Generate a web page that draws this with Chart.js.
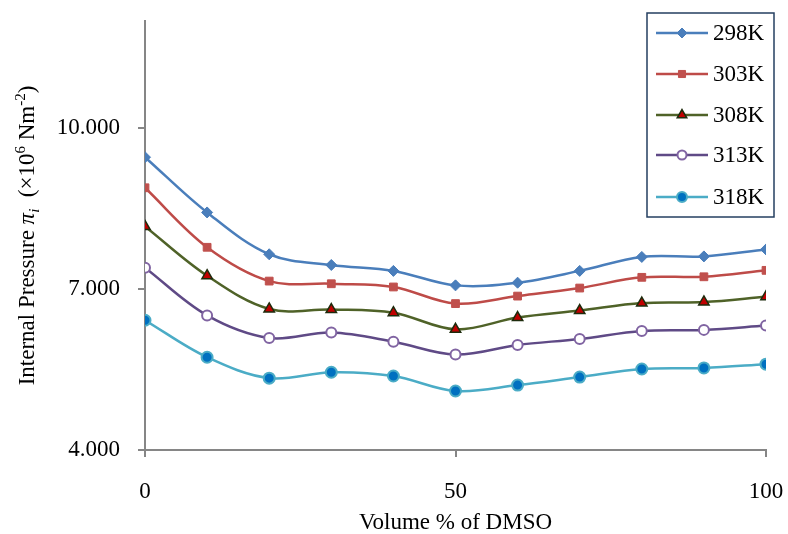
<!DOCTYPE html>
<html>
<head>
<meta charset="utf-8">
<script src="https://cdn.jsdelivr.net/npm/chart.js@4/dist/chart.umd.min.js"></script>
<style>
  html, body { margin: 0; padding: 0; background: #fff; }
  #wrap { width: 788px; height: 534px; position: relative; }
</style>
</head>
<body>
<div id="wrap"><canvas id="myChart" width="788" height="534"></canvas></div>
<script>
const xValues = [0, 10, 20, 30, 40, 50, 60, 70, 80, 90, 100];
const series298 = [9.46, 8.43, 7.65, 7.45, 7.34, 7.07, 7.12, 7.34, 7.60, 7.61, 7.74];
const series303 = [8.89, 7.78, 7.15, 7.10, 7.04, 6.73, 6.87, 7.02, 7.22, 7.23, 7.35];
const series308 = [8.17, 7.25, 6.63, 6.62, 6.56, 6.25, 6.47, 6.60, 6.74, 6.76, 6.86];
const series313 = [7.40, 6.51, 6.09, 6.19, 6.02, 5.78, 5.96, 6.07, 6.22, 6.24, 6.32];
const series318 = [6.42, 5.73, 5.34, 5.45, 5.38, 5.10, 5.21, 5.36, 5.51, 5.53, 5.60];
const seriesLabels = ["298K", "303K", "308K", "313K", "318K"];
const yTickValues = [4, 7, 10];

const FONT = "'Liberation Serif', 'Times New Roman', serif";

function toPoints(values) {
  return values.map((v, i) => ({ x: xValues[i], y: v }));
}

const styles = [
  { line: "#4a7ebb", fill: "#4a7ebb", border: "#4a7ebb", style: "rectRot", radius: 5.5, bw: 1 },
  { line: "#be4b48", fill: "#c0504d", border: "#c0504d", style: "rect", radius: 5.5, bw: 1 },
  { line: "#4f6228", fill: "#c00000", border: "#1d2b0c", style: "triangle", radius: 6, bw: 1.5 },
  { line: "#5f4a86", fill: "#ffffff", border: "#8064a2", style: "circle", radius: 5, bw: 2 },
  { line: "#4bacc6", fill: "#0070c0", border: "#4bacc6", style: "circle", radius: 5.5, bw: 2 },
];
const allSeries = [series298, series303, series308, series313, series318];

const datasets = allSeries.map((s, i) => ({
  label: seriesLabels[i],
  data: toPoints(s),
  borderColor: styles[i].line,
  borderWidth: 2.5,
  backgroundColor: styles[i].fill,
  pointBackgroundColor: styles[i].fill,
  pointBorderColor: styles[i].border,
  pointBorderWidth: styles[i].bw,
  pointStyle: styles[i].style,
  pointRadius: styles[i].radius,
  tension: 0.35,
  fill: false,
}));

const whiteBg = {
  id: "whiteBg",
  beforeDraw(chart) {
    const ctx = chart.ctx;
    ctx.save();
    ctx.fillStyle = "#fff";
    ctx.fillRect(0, 0, chart.width, chart.height);
    ctx.restore();
  },
};

// y title with italic pi, subscript and superscripts
const yTitle = {
  id: "yTitle",
  afterDraw(chart) {
    const ctx = chart.ctx;
    const area = chart.chartArea;
    const parts = [
      { t: "Internal Pressure ", f: "23px " + FONT, dy: 0 },
      { t: "\u03c0", f: "italic 23px " + FONT, dy: 0 },
      { t: "i", f: "italic 15px " + FONT, dy: 5 },
      { t: "  (\u00d710", f: "23px " + FONT, dy: 0 },
      { t: "6", f: "15px " + FONT, dy: -9 },
      { t: " Nm", f: "23px " + FONT, dy: 0 },
      { t: "-2", f: "15px " + FONT, dy: -9 },
      { t: ")", f: "23px " + FONT, dy: 0 },
    ];
    ctx.save();
    let total = 0;
    parts.forEach((p) => { ctx.font = p.f; p.w = ctx.measureText(p.t).width; total += p.w; });
    ctx.translate(34, (area.top + area.bottom) / 2);
    ctx.rotate(-Math.PI / 2);
    ctx.fillStyle = "#000";
    ctx.textBaseline = "alphabetic";
    ctx.textAlign = "left";
    let x = -total / 2;
    parts.forEach((p) => {
      ctx.font = p.f;
      ctx.fillText(p.t, x, p.dy);
      x += p.w;
    });
    ctx.restore();
  },
};

const boxLegend = {
  id: "boxLegend",
  afterDraw(chart) {
    const ctx = chart.ctx;
    ctx.save();
    ctx.fillStyle = "#fff";
    ctx.fillRect(647, 13, 127, 204);
    ctx.strokeStyle = "#243f60";
    ctx.lineWidth = 1.5;
    ctx.strokeRect(647, 13, 127, 204);
    const rowY = [33, 74, 115, 155, 197];
    chart.data.datasets.forEach((ds, i) => {
      const y = rowY[i];
      ctx.strokeStyle = ds.borderColor;
      ctx.lineWidth = 2.5;
      ctx.beginPath();
      ctx.moveTo(656, y);
      ctx.lineTo(708, y);
      ctx.stroke();
      ctx.fillStyle = ds.pointBackgroundColor;
      ctx.strokeStyle = ds.pointBorderColor;
      ctx.lineWidth = ds.pointBorderWidth;
      Chart.helpers.drawPoint(ctx, {
        pointStyle: ds.pointStyle,
        radius: ds.pointRadius - 0.5,
        rotation: 0,
        borderWidth: ds.pointBorderWidth,
      }, 682, y);
      ctx.fillStyle = "#000";
      ctx.font = "23px " + FONT;
      ctx.textBaseline = "middle";
      ctx.textAlign = "left";
      ctx.fillText(ds.label, 713, y + 1);
    });
    ctx.restore();
  },
};

const config = {
  type: "line",
  data: { datasets: datasets },
  options: {
    responsive: false,
    animation: false,
    layout: { padding: { top: 21, right: 22, left: 0, bottom: 0 } },
    plugins: {
      legend: { display: false },
      title: { display: false },
      tooltip: { enabled: false },
    },
    scales: {
      x: {
        type: "linear",
        min: 0,
        max: 100,
        border: { color: "#868686", width: 2 },
        grid: { drawOnChartArea: false, drawTicks: true, tickLength: 7, color: "#868686", lineWidth: 2 },
        ticks: { stepSize: 50, color: "#000", padding: 21, font: { family: FONT, size: 23 }, maxRotation: 0 },
        title: {
          display: true,
          text: "Volume % of DMSO",
          color: "#000",
          font: { family: FONT, size: 23, lineHeight: 1 },
          padding: { top: 0, bottom: 0 },
        },
        afterFit(scale) {
          scale.height = 84;
          scale.paddingLeft = 0;
          scale.paddingRight = 0;
        },
      },
      y: {
        type: "linear",
        min: 4,
        max: 12,
        border: { color: "#868686", width: 2 },
        grid: { drawOnChartArea: false, drawTicks: true, tickLength: 7, color: "#868686", lineWidth: 2 },
        ticks: {
          color: "#000",
          padding: 18,
          font: { family: FONT, size: 23 },
          callback: (v) => v.toFixed(3),
        },
        afterBuildTicks(scale) {
          scale.ticks = yTickValues.map((v) => ({ value: v }));
        },
        afterFit(scale) {
          scale.width = 145;
          scale.paddingTop = 0;
          scale.paddingBottom = 0;
        },
      },
    },
  },
  plugins: [whiteBg, yTitle, boxLegend],
};

var myChart = new Chart(document.getElementById("myChart"), config);
</script>
</body>
</html>
